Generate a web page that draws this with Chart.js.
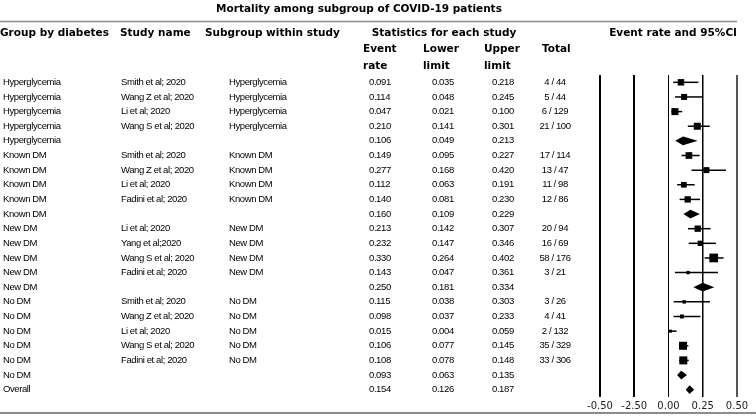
<!DOCTYPE html>
<html>
<head>
<meta charset="utf-8">
<script src="https://cdn.jsdelivr.net/npm/chart.js@4.4.1/dist/chart.umd.min.js"></script>
<style>
  html, body { margin: 0; padding: 0; background: #fff; }
  canvas { display: block; }
</style>
</head>
<body>
<canvas id="forestChart" width="756" height="416"></canvas>
<script>
// Rows of the forest plot, top to bottom (summary rows have no study name)
const groups = [
    'Hyperglycemia', 'Hyperglycemia', 'Hyperglycemia', 'Hyperglycemia', 'Hyperglycemia',
    'Known DM', 'Known DM', 'Known DM', 'Known DM', 'Known DM',
    'New DM', 'New DM', 'New DM', 'New DM', 'New DM',
    'No DM', 'No DM', 'No DM', 'No DM', 'No DM', 'No DM',
    'Overall'
];
const studies = [
    'Smith et al; 2020', 'Wang Z et al; 2020', 'Li et al; 2020', 'Wang S et al; 2020', '',
    'Smith et al; 2020', 'Wang Z et al; 2020', 'Li et al; 2020', 'Fadini et al; 2020', '',
    'Li et al; 2020', 'Yang et al;2020', 'Wang S et al; 2020', 'Fadini et al; 2020', '',
    'Smith et al; 2020', 'Wang Z et al; 2020', 'Li et al; 2020', 'Wang S et al; 2020', 'Fadini et al; 2020', '',
    ''
];
const eventRate = [
    0.091, 0.114, 0.047, 0.210, 0.106,
    0.149, 0.277, 0.112, 0.140, 0.160,
    0.213, 0.232, 0.330, 0.143, 0.250,
    0.115, 0.098, 0.015, 0.106, 0.108, 0.093,
    0.154
];
const lowerLimit = [
    0.035, 0.048, 0.021, 0.141, 0.049,
    0.095, 0.168, 0.063, 0.081, 0.109,
    0.142, 0.147, 0.264, 0.047, 0.181,
    0.038, 0.037, 0.004, 0.077, 0.078, 0.063,
    0.126
];
const upperLimit = [
    0.218, 0.245, 0.100, 0.301, 0.213,
    0.227, 0.420, 0.191, 0.230, 0.229,
    0.307, 0.346, 0.402, 0.361, 0.334,
    0.303, 0.233, 0.059, 0.145, 0.148, 0.135,
    0.187
];
const totals = [
    '4 / 44', '5 / 44', '6 / 129', '21 / 100', '',
    '17 / 114', '13 / 47', '11 / 98', '12 / 86', '',
    '20 / 94', '16 / 69', '58 / 176', '3 / 21', '',
    '3 / 26', '4 / 41', '2 / 132', '35 / 329', '33 / 306', '',
    ''
];
// relative study weight
const relWeight = [
    42, 36, 49, 49, null,
    45, 36, 32, 40, null,
    40, 28, 76, 11, null,
    12, 16, 9, 64, 64, null,
    null
];
const tickLabels = ['-0.50', '-2.50', '0.00', '0.25', '0.50'];

const isSummary = i => studies[i] === '';
const rowIdx = groups.map((g, i) => i);

const textFont = '"Liberation Sans", Arial, sans-serif';
const headFont = '"DejaVu Sans", Verdana, sans-serif';

const forestPlugin = {
    id: 'forest',
    beforeDatasetsDraw(chart) {
        // confidence interval whiskers
        const { ctx, scales: { x, y }, chartArea } = chart;
        ctx.save();
        ctx.beginPath();
        ctx.rect(chartArea.left, chartArea.top, chartArea.right - chartArea.left, chartArea.bottom - chartArea.top);
        ctx.clip();
        ctx.strokeStyle = '#000';
        ctx.lineWidth = 1.5;
        rowIdx.forEach(i => {
            if (isSummary(i)) return;
            const py = y.getPixelForValue(i);
            ctx.beginPath();
            ctx.moveTo(x.getPixelForValue(lowerLimit[i]), py);
            ctx.lineTo(x.getPixelForValue(upperLimit[i]), py);
            ctx.stroke();
        });
        ctx.restore();
    },
    afterDatasetsDraw(chart) {
        // summary diamonds
        const { ctx, scales: { x, y } } = chart;
        ctx.save();
        ctx.fillStyle = '#000';
        rowIdx.forEach(i => {
            if (!isSummary(i)) return;
            const py = y.getPixelForValue(i);
            const top = y.getPixelForValue(i - 0.3);
            const bot = y.getPixelForValue(i + 0.3);
            ctx.beginPath();
            ctx.moveTo(x.getPixelForValue(lowerLimit[i]), py);
            ctx.lineTo(x.getPixelForValue(eventRate[i]), top);
            ctx.lineTo(x.getPixelForValue(upperLimit[i]), py);
            ctx.lineTo(x.getPixelForValue(eventRate[i]), bot);
            ctx.closePath();
            ctx.fill();
        });
        ctx.restore();
    },
    afterDraw(chart) {
        const { ctx, scales: { y } } = chart;
        ctx.save();
        ctx.fillStyle = '#000';
        ctx.textBaseline = 'middle';

        // title and header
        ctx.font = 'bold 10.5px ' + headFont;
        ctx.textAlign = 'center';
        ctx.fillText('Mortality among subgroup of COVID-19 patients', 359, 9);

        ctx.strokeStyle = '#8c8c8c';
        ctx.lineWidth = 1.5;
        ctx.beginPath();
        ctx.moveTo(0, 21.5);
        ctx.lineTo(737, 21.5);
        ctx.stroke();

        ctx.textAlign = 'left';
        ctx.fillText('Group by diabetes', 0, 33);
        ctx.fillText('Study name', 120, 33);
        ctx.fillText('Subgroup within study', 205, 33);
        ctx.fillText('Event', 363, 49);
        ctx.fillText('rate', 363, 66);
        ctx.fillText('Lower', 423, 49);
        ctx.fillText('limit', 423, 66);
        ctx.fillText('Upper', 484, 49);
        ctx.fillText('limit', 484, 66);
        ctx.fillText('Total', 542, 49);
        ctx.textAlign = 'center';
        ctx.fillText('Statistics for each study', 444, 33);
        ctx.textAlign = 'right';
        ctx.fillText('Event rate and 95%CI', 737, 33);

        // table rows
        ctx.font = '9.5px ' + textFont;
        ctx.letterSpacing = '-0.4px';
        rowIdx.forEach(i => {
            const py = y.getPixelForValue(i);
            ctx.textAlign = 'left';
            ctx.fillText(groups[i], 3, py);
            ctx.fillText(studies[i], 121, py);
            if (!isSummary(i)) ctx.fillText(groups[i], 229, py);
            ctx.fillText(eventRate[i].toFixed(3), 369, py);
            ctx.fillText(lowerLimit[i].toFixed(3), 432, py);
            ctx.fillText(upperLimit[i].toFixed(3), 492, py);
            ctx.textAlign = 'center';
            ctx.fillText(totals[i], 555, py);
        });

        ctx.strokeStyle = '#8c8c8c';
        ctx.lineWidth = 2;
        ctx.beginPath();
        ctx.moveTo(0, 413);
        ctx.lineTo(756, 413);
        ctx.stroke();
        ctx.restore();
    }
};

const gridColors = ['#000', '#000', '#000', '#000', '#555'];
const gridWidths = [2, 2, 1, 1.5, 2];

const chartCtx = document.getElementById('forestChart').getContext('2d');
const forestChart = new Chart(chartCtx, {
    type: 'scatter',
    data: {
        datasets: [{
            data: rowIdx.filter(i => !isSummary(i)).map(i => ({ x: eventRate[i], y: i })),
            pointStyle: 'rect',
            pointRadius: c => Math.sqrt(relWeight[c.raw.y]) / Math.SQRT2,
            backgroundColor: '#000',
            borderWidth: 0
        }]
    },
    options: {
        responsive: false,
        animation: false,
        events: [],
        layout: { padding: { left: 600, right: 19, top: 75, bottom: 1 } },
        plugins: { legend: { display: false }, tooltip: { enabled: false } },
        scales: {
            x: {
                type: 'linear',
                min: -0.5,
                max: 0.5,
                border: { display: false },
                grid: {
                    drawTicks: false,
                    color: c => gridColors[c.index],
                    lineWidth: c => gridWidths[c.index]
                },
                ticks: {
                    stepSize: 0.25,
                    padding: 3,
                    color: '#222',
                    font: { family: headFont, size: 10 },
                    callback: (v, idx) => tickLabels[idx]
                }
            },
            y: {
                type: 'linear',
                display: false,
                reverse: true,
                min: -0.5,
                max: 21.5
            }
        }
    },
    plugins: [forestPlugin]
});
</script>
</body>
</html>
